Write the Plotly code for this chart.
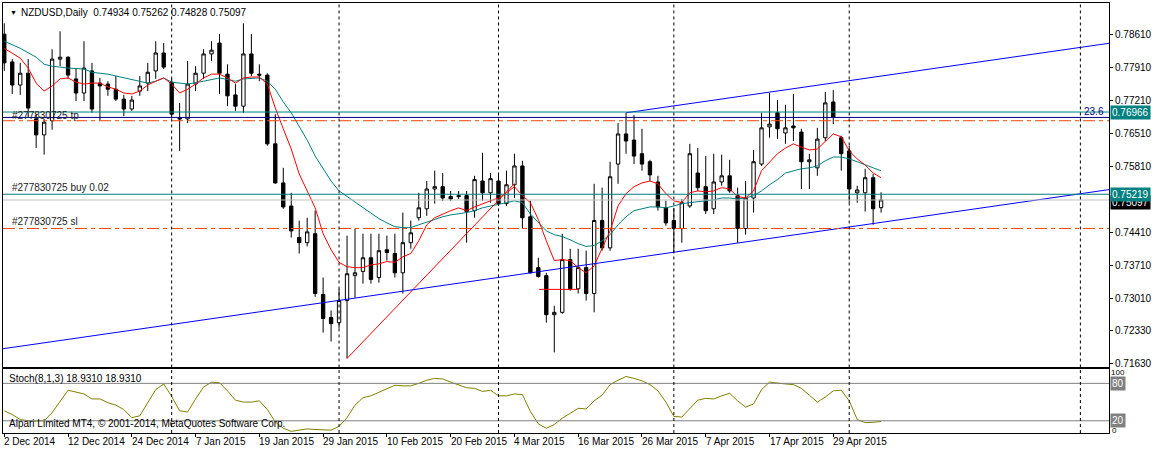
import plotly.graph_objects as go

# ---------------- data (NZDUSD daily, 2 Dec 2014 .. 7 May 2015) ----------------
opens = [0.7862,0.7803,0.7754,0.7779,0.7682,0.7648,0.7678,0.7809,0.7813,0.7767,
         0.7737,0.7784,0.7758,0.7756,0.7745,0.7724,0.7703,0.7741,0.7758,0.7784,
         0.7822,0.7760,0.7684,0.7682,0.7756,0.7779,0.7820,0.7843,0.7777,0.7733,
         0.7709,0.7820,0.7777,0.7775,0.7629,0.7546,0.7497,0.7430,0.7419,0.7438,
         0.7309,0.7260,0.7249,0.7296,0.7349,0.7358,0.7387,0.7345,0.7404,0.7396,
         0.7355,0.7419,0.7472,0.7491,0.7533,0.7538,0.7517,0.7519,0.7519,0.7487,
         0.7550,0.7525,0.7550,0.7502,0.7542,0.7582,0.7474,0.7366,0.7349,0.7266,
         0.7271,0.7383,0.7321,0.7366,0.7311,0.7466,0.7408,0.7586,0.7650,0.7637,
         0.7608,0.7591,0.7548,0.7493,0.7466,0.7449,0.7497,0.7567,0.7538,0.7491,
         0.7548,0.7561,0.7519,0.7449,0.7514,0.7586,0.7665,0.7695,0.7652,0.7667,
         0.7654,0.7591,0.7578,0.7642,0.7718,0.7642,0.7614,0.7525,0.7525,0.7557,
         0.74934]
highs = [0.7885,0.7809,0.7801,0.7809,0.7692,0.7682,0.7830,0.7868,0.7815,0.7790,
         0.7847,0.7801,0.7769,0.7762,0.7773,0.7733,0.7731,0.7773,0.7801,0.7847,
         0.7843,0.7767,0.7716,0.7805,0.7794,0.7830,0.7847,0.7862,0.7798,0.7756,
         0.7885,0.7862,0.7798,0.7779,0.7692,0.7578,0.7525,0.7466,0.7472,0.7487,
         0.7345,0.7275,0.7321,0.7434,0.7449,0.7438,0.7438,0.7438,0.7434,0.7438,
         0.7483,0.7466,0.7525,0.7550,0.7572,0.7567,0.7529,0.7529,0.7529,0.7561,
         0.7610,0.7567,0.7567,0.7572,0.7608,0.7593,0.7508,0.7387,0.7355,0.7285,
         0.7438,0.7406,0.7406,0.7402,0.7544,0.7536,0.7591,0.7673,0.7695,0.7690,
         0.7661,0.7595,0.7561,0.7508,0.7493,0.7512,0.7629,0.7620,0.7603,0.7608,
         0.7606,0.7595,0.7536,0.7550,0.7616,0.7695,0.7737,0.7722,0.7712,0.7735,
         0.7661,0.7608,0.7663,0.7739,0.7743,0.7646,0.7625,0.7540,0.7576,0.7565,
         0.75262]
lows = [0.7784,0.7735,0.7733,0.7684,0.7620,0.7606,0.7659,0.7794,0.7767,0.7720,
        0.7720,0.7695,0.7678,0.7731,0.7720,0.7688,0.7699,0.7731,0.7741,0.7767,
        0.7788,0.7684,0.7614,0.7673,0.7741,0.7767,0.7805,0.7735,0.7709,0.7699,
        0.7695,0.7773,0.7762,0.7625,0.7544,0.7491,0.7430,0.7396,0.7411,0.7304,
        0.7228,0.7209,0.7237,0.7173,0.7302,0.7332,0.7332,0.7334,0.7381,0.7345,
        0.7311,0.7406,0.7466,0.7476,0.7502,0.7508,0.7508,0.7512,0.7419,0.7472,
        0.7508,0.7504,0.7497,0.7497,0.7514,0.7449,0.7353,0.7345,0.7249,0.7186,
        0.7268,0.7317,0.7311,0.7296,0.7271,0.7402,0.7402,0.7544,0.7608,0.7586,
        0.7572,0.7550,0.7487,0.7455,0.7398,0.7419,0.7493,0.7529,0.7480,0.7480,
        0.7540,0.7525,0.7419,0.7436,0.7483,0.7582,0.7642,0.7639,0.7629,0.7635,
        0.7533,0.7533,0.7561,0.7635,0.7671,0.7572,0.7504,0.7504,0.7485,0.7457,
        0.74828]
closes = [0.7801,0.7754,0.7779,0.7705,0.7648,0.7675,0.7809,0.7813,0.7775,0.7737,
          0.7790,0.7703,0.7752,0.7745,0.7724,0.7703,0.7722,0.7752,0.7781,0.7822,
          0.7792,0.7692,0.7682,0.7756,0.7779,0.7820,0.7828,0.7779,0.7731,0.7709,
          0.7820,0.7779,0.7775,0.7629,0.7546,0.7495,0.7444,0.7419,0.7442,0.7311,
          0.7258,0.7247,0.7296,0.7353,0.7355,0.7387,0.7341,0.7402,0.7398,0.7355,
          0.7419,0.7440,0.7493,0.7533,0.7538,0.7514,0.7512,0.7517,0.7485,0.7553,
          0.7525,0.7555,0.7502,0.7542,0.7582,0.7472,0.7355,0.7347,0.7266,0.7271,
          0.7383,0.7321,0.7366,0.7311,0.7466,0.7408,0.7559,0.7650,0.7635,0.7603,
          0.7586,0.7563,0.7495,0.7461,0.7449,0.7504,0.7608,0.7536,0.7487,0.7548,
          0.7561,0.7529,0.7449,0.7514,0.7591,0.7663,0.7671,0.7661,0.7663,0.7663,
          0.7591,0.7595,0.7639,0.7716,0.7686,0.7608,0.7533,0.7531,0.7557,0.7491,
          0.75097]

# fast moving average (red)
ma_fast_bar = [0] + list(range(2, 111))
ma_fast = [0.7832,0.7811,0.7790,0.7758,0.7741,0.7752,0.7767,0.7769,0.7760,0.7756,
           0.7758,0.7758,0.7750,0.7745,0.7737,0.7735,0.7741,0.7754,0.7762,0.7769,
           0.7756,0.7737,0.7745,0.7756,0.7769,0.7777,0.7777,0.7769,0.7758,0.7769,
           0.7771,0.7771,0.7756,0.7705,0.7661,0.7618,0.7565,0.7529,0.7493,0.7438,
           0.7404,0.7377,0.7368,0.7366,0.7366,0.7372,0.7374,0.7379,0.7377,0.7389,
           0.7396,0.7423,0.7457,0.7472,0.7480,0.7487,0.7493,0.7487,0.7495,0.7502,
           0.7508,0.7514,0.7525,0.7538,0.7519,0.7504,0.7468,0.7423,0.7381,0.7383,
           0.7381,0.7366,0.7355,0.7370,0.7408,0.7444,0.7497,0.7523,0.7538,0.7546,
           0.7550,0.7544,0.7523,0.7508,0.7504,0.7525,0.7529,0.7527,0.7529,0.7536,
           0.7533,0.7517,0.7514,0.7529,0.7572,0.7591,0.7608,0.7620,0.7629,0.7622,
           0.7616,0.7618,0.7635,0.7650,0.7644,0.7614,0.7597,0.7584,0.7567,0.7557]

# slow moving average (teal)
ma_slow_bar = [0,2,4,5,6,8,10,11,13,15,16,18,19,20,21,23,25,27,29,30,32,33,34,35,36,37,38,39,
               40,41,42,43,44,45,46,47,48,49,50,51,52,53,54,55,56,57,58,59,60,61,62,63,64,
               65,66,67,68,69,70,71,72,73,74,75,76,77,78,79,80,81,82,83,84,85,86,87,88,89,
               90,91,92,93,94,95,96,97,98,99,100,101,102,103,104,105,106,107,108,109,110]
ma_slow = [0.7847,0.7832,0.7813,0.7798,0.7794,0.7790,0.7788,0.7781,0.7777,0.7769,0.7765,
           0.7758,0.7762,0.7769,0.7760,0.7756,0.7762,0.7769,0.7762,0.7767,0.7769,0.7762,
           0.7745,0.7718,0.7695,0.7665,0.7637,0.7603,0.7576,0.7550,0.7529,0.7517,0.7506,
           0.7495,0.7483,0.7470,0.7461,0.7453,0.7451,0.7451,0.7457,0.7463,0.7468,0.7474,
           0.7478,0.7480,0.7483,0.7487,0.7493,0.7497,0.7500,0.7504,0.7508,0.7504,0.7480,
           0.7461,0.7444,0.7436,0.7432,0.7425,0.7417,0.7411,0.7413,0.7423,0.7436,0.7457,
           0.7474,0.7487,0.7491,0.7495,0.7495,0.7493,0.7497,0.7502,0.7504,0.7506,0.7508,
           0.7510,0.7514,0.7514,0.7512,0.7514,0.7519,0.7529,0.7542,0.7553,0.7567,0.7572,
           0.7576,0.7578,0.7582,0.7593,0.7601,0.7601,0.7597,0.7591,0.7584,0.7578,0.7572]

# Stochastic (8,1,3)
stoch = [36,30,22,20,19.5,20,33,52,69,66, 63,55,55,49,45,38,25,28,50,70,
         79,59,36,34,55,74,82,81,68,53, 50,50,52,38,18,8,3,5,7,6,
         5,5,11,25,45,57,60,66,72,77, 76,76,80,85,88,87,82,78,73,72,
         67,69,60,60,63,62,35,15,8,14, 24,32,40,39,52,61,78,85,91,88,
         84,78,68,50,27,26,40,53,56,55, 60,64,52,42,47,70,82,80,79,78,
         72,61,50,58,68,69,52,22,17,17.5, 18.931]
stoch_levels = [80, 20]

# time axis labels (bar index -> text)
date_label_bar = [0, 8, 16, 24, 32, 40, 48, 56, 64, 72, 80, 88, 96, 104]
date_labels = ["2 Dec 2014", "12 Dec 2014", "24 Dec 2014", "7 Jan 2015", "19 Jan 2015",
               "29 Jan 2015", "10 Feb 2015", "20 Feb 2015", "4 Mar 2015", "16 Mar 2015",
               "26 Mar 2015", "7 Apr 2015", "17 Apr 2015", "29 Apr 2015"]
month_sep_bar = [21, 42, 62, 84, 106, 135]

# price axis labels
price_ticks = [0.78610, 0.77910, 0.77210, 0.76510, 0.75810, 0.74410, 0.73710, 0.73010, 0.72330, 0.71630]

# chart objects
level_top = 0.76966
fib_236 = 0.76851
order_tp = 0.76781
order_open = 0.75219
bid = 0.75097
order_sl = 0.74491
lower_tl = [(0, 0.71941), (110, 0.74621)]          # channel support anchors
upper_tl_start = (78, 0.76950)                       # channel top (parallel ray)
red_diag = [(43, 0.7173), (64, 0.75445)]
red_flat = [(67.1, 0.73198), (72, 0.73198)]

view_first, view_last = -0.16, 138.59
price_min, price_max = 0.71539, 0.79282

FONT = "Liberation Sans"
TEAL = "#008080"
ORANGE = "#FF4500"

# ---------------- figure ----------------
bars = list(range(len(opens)))
fig = go.Figure()

fig.add_trace(go.Candlestick(
    x=bars, open=opens, high=highs, low=lows, close=closes,
    increasing=dict(line=dict(color="black", width=1), fillcolor="white"),
    decreasing=dict(line=dict(color="black", width=1), fillcolor="black"),
    whiskerwidth=0, hoverinfo="skip", xaxis="x", yaxis="y"))

fig.add_trace(go.Scatter(x=ma_slow_bar, y=ma_slow, mode="lines",
                         line=dict(color=TEAL, width=1), hoverinfo="skip"))
fig.add_trace(go.Scatter(x=ma_fast_bar, y=ma_fast, mode="lines",
                         line=dict(color="#FF0000", width=1), hoverinfo="skip"))

# red drawn lines
for seg in (red_diag, red_flat):
    fig.add_trace(go.Scatter(x=[p[0] for p in seg], y=[p[1] for p in seg], mode="lines",
                             line=dict(color="#FF0000", width=1), hoverinfo="skip"))

# channel lines
slope = (lower_tl[1][1] - lower_tl[0][1]) / (lower_tl[1][0] - lower_tl[0][0])
lo_x = [view_first, view_last]
lo_y = [lower_tl[0][1] + slope * (x - lower_tl[0][0]) for x in lo_x]
fig.add_trace(go.Scatter(x=lo_x, y=lo_y, mode="lines", line=dict(color="#0000FF", width=1),
                         hoverinfo="skip"))
up_x = [upper_tl_start[0], view_last]
up_y = [upper_tl_start[1] + slope * (x - upper_tl_start[0]) for x in up_x]
fig.add_trace(go.Scatter(x=up_x, y=up_y, mode="lines", line=dict(color="#0000FF", width=1),
                         hoverinfo="skip"))

# stochastic
fig.add_trace(go.Scatter(x=bars, y=stoch, mode="lines", line=dict(color="#808000", width=1),
                         hoverinfo="skip", xaxis="x2", yaxis="y2"))

shapes = []
def hline(y, color, dash=None, width=1, yref="y"):
    shapes.append(dict(type="line", xref="paper", x0=0, x1=1, yref=yref, y0=y, y1=y,
                       line=dict(color=color, width=width, dash=dash), layer="above"))

hline(bid, "#C0C0C0")
hline(level_top, TEAL)
hline(fib_236, "#000080")
hline(order_tp, ORANGE, dash="12px,4px,4px,4px")
hline(order_open, TEAL)
hline(order_sl, ORANGE, dash="12px,4px,4px,4px")
for lv in stoch_levels:
    hline(lv, "#808080", yref="y2")

for b in month_sep_bar:
    for yr in ("y domain", "y2 domain"):
        shapes.append(dict(type="line", xref="x", x0=b, x1=b, yref=yr, y0=0, y1=1,
                           line=dict(color="black", width=1, dash="3px,3px"), layer="above"))

ann = []
def text(x, y, s, xref="paper", yref="paper", xanchor="left", yanchor="middle", size=10,
         color="black", bg=None, xshift=0, yshift=0, pad=0):
    ann.append(dict(x=x, y=y, xref=xref, yref=yref, text=s, showarrow=False, xanchor=xanchor,
                    yanchor=yanchor, xshift=xshift, yshift=yshift, bgcolor=bg, borderpad=pad,
                    font=dict(family=FONT, size=size, color=color)))

# title
text(0, 1, "\u25BC", yanchor="top", size=7, xshift=6, yshift=-5)
text(0, 1, "NZDUSD,Daily  %.5f %.5f %.5f %.5f" % (opens[-1], highs[-1], lows[-1], closes[-1]),
     yanchor="top", xshift=17, yshift=-3)
# order labels
text(0, order_open, "#277830725 buy 0.02", yref="y", xshift=8, yshift=7, color="#222222")
text(0, order_sl, "#277830725 sl", yref="y", xshift=8, yshift=7, color="#222222")
text(0, order_tp, "#277830725 tp", yref="y", xshift=8, yshift=5, color="#222222")
text(1, fib_236, "23.6", yref="y", xanchor="right", xshift=-4, yshift=6, color="#000080")
# price boxes (bid box partly covered by the order box, as on the terminal)
text(1, bid, "%.5f" % bid, yref="y", xshift=1, yshift=-3, bg="black", color="white", pad=1)
text(1, level_top, "%.5f" % level_top, yref="y", xshift=1, bg=TEAL, color="white", pad=1)
text(1, order_open, "%.5f" % order_open, yref="y", xshift=1, bg=TEAL, color="white", pad=1)
# stochastic labels
text(0, 1, "Stoch(8,1,3) %.4f %.4f" % (stoch[-1], stoch[-1]), yref="y2 domain",
     yanchor="top", xshift=5, yshift=-3)
text(0, 20, "Alpari Limited MT4, \u00A9 2001-2014, MetaQuotes Software Corp.", yref="y2",
     xshift=5, yshift=-3)
text(1, 100, "100", yref="y2", xshift=1, yshift=-2, size=8)
text(1, 80, "80", yref="y2", xshift=1, bg="#808080", color="white", pad=1)
text(1, 20, "20", yref="y2", xshift=1, bg="#808080", color="white", pad=1)
text(1, 5, "0", yref="y2", xshift=2, size=8)
# date labels
for b, s in zip(date_label_bar, date_labels):
    text(b, 0, s, xref="x2", yanchor="top", xshift=-1, yshift=-2)

axis_common = dict(showgrid=False, zeroline=False, showline=True, mirror=True,
                   linecolor="black", linewidth=1)
fig.update_layout(
    width=1154, height=452, margin=dict(l=2, r=42, t=2, b=19),
    paper_bgcolor="white", plot_bgcolor="white", showlegend=False,
    xaxis=dict(domain=[0, 1], range=[view_first, view_last], anchor="y",
               showticklabels=False, ticks="", rangeslider=dict(visible=False), **axis_common),
    yaxis=dict(domain=[0.1524, 1], range=[price_min, price_max], side="right", anchor="x",
               tickvals=price_ticks, ticktext=["%.5f" % p for p in price_ticks],
               ticks="outside", ticklen=3, tickcolor="black",
               tickfont=dict(family=FONT, size=10, color="black"), **axis_common),
    xaxis2=dict(domain=[0, 1], range=[view_first, view_last], anchor="y2",
                tickvals=date_label_bar, ticks="outside", ticklen=3, tickcolor="black",
                showticklabels=False, **axis_common),
    yaxis2=dict(domain=[0, 0.1478], range=[0.4, 102.3], anchor="x2", side="right",
                showticklabels=False, ticks="", **axis_common),
    shapes=shapes, annotations=ann, boxgap=0.4,
)

fig.write_html("out.html")
